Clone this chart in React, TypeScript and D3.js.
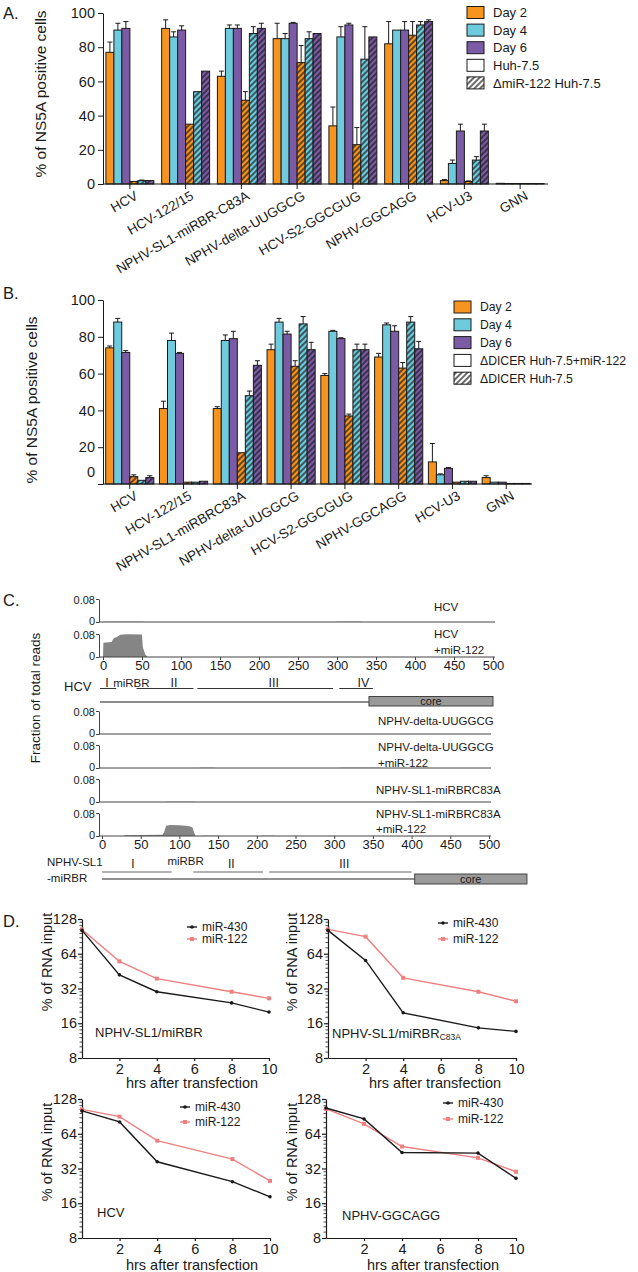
import { useEffect, useRef } from 'react'
import * as d3 from 'd3'

const FONT = "'Liberation Sans', Arial, Helvetica, sans-serif"
const ORANGE = '#F7941D'
const CYAN = '#6DCBDD'
const PURPLE = '#7C5BA6'
const PINK = '#EE8080'
const INK = '#1a1a1a'

// ---------- A / B : % of NS5A positive cells ----------
const constructsA = ['HCV', 'HCV-122/15', 'NPHV-SL1-miRBR-C83A', 'NPHV-delta-UUGGCG', 'HCV-S2-GGCGUG', 'NPHV-GGCAGG', 'HCV-U3', 'GNN']
const constructsB = ['HCV', 'HCV-122/15', 'NPHV-SL1-miRBRC83A', 'NPHV-delta-UUGGCG', 'HCV-S2-GGCGUG', 'NPHV-GGCAGG', 'HCV-U3', 'GNN']
const pctTicks = [0, 20, 40, 60, 80, 100]
const legendA = ['Day 2', 'Day 4', 'Day 6', 'Huh-7.5', '\u0394miR-122 Huh-7.5']
const legendB = ['Day 2', 'Day 4', 'Day 6', '\u0394DICER Huh-7.5+miR-122', '\u0394DICER Huh-7.5']

// Huh-7.5 (solid) / ΔmiR-122 Huh-7.5 (hatched)
const aDay2 = [77, 91, 63, 85, 34, 82, 2, 0.4]
const aDay4 = [90, 86, 91, 85, 86, 90, 12, 0.3]
const aDay6 = [91, 90, 91, 94, 93, 90, 31, 0.3]
const aDay2Ko = [1.5, 35, 49, 71, 23, 87, 1.5, 0.3]
const aDay4Ko = [2, 54, 88, 85, 73, 93, 14, 0.3]
const aDay6Ko = [2, 66, 91, 88, 86, 95, 31, 0.3]
const aDay2Err = [6, 5, 3, 9, 11, 13, 0.6, 0]
const aDay4Err = [4, 3, 2, 3, 6, 0, 2, 0]
const aDay6Err = [4, 2.5, 2, 0.5, 1, 5, 4, 0]
const aDay2KoErr = [0, 0, 5, 10, 10, 8, 0.3, 0]
const aDay4KoErr = [0.3, 0, 4, 4, 19, 2, 2, 0]
const aDay6KoErr = [0, 0, 3, 0, 0, 1, 4, 0]

// ΔDICER Huh-7.5+miR-122 (solid) / ΔDICER Huh-7.5 (hatched)
const bDay2 = [74, 41, 41, 73, 59, 69, 12, 3.5]
const bDay4 = [88, 78, 78, 88, 83, 86.5, 5, 1]
const bDay6 = [71.5, 71, 79, 81.5, 79, 83, 8.5, 1]
const bDay2Ko = [4, 1, 17, 64, 37, 63, 1, 0.3]
const bDay4Ko = [2, 1, 48, 87, 73, 88, 1.5, 0.3]
const bDay6Ko = [3.5, 1.5, 64.5, 73, 73, 73.5, 1.5, 0.3]
const bDay2Err = [1, 4, 1, 3, 1, 2, 10, 1]
const bDay4Err = [2, 4, 3, 2, 0.5, 1, 0.5, 0]
const bDay6Err = [1, 0.5, 4, 1.5, 0.5, 3, 0.5, 0]
const bDay2KoErr = [1, 0, 0, 3, 1, 3, 0, 0]
const bDay4KoErr = [0, 0, 2.5, 4, 3, 3, 0, 0]
const bDay6KoErr = [1, 0, 2.5, 4, 3, 4, 0, 0]

// ---------- C : read coverage (nt, fraction of total reads) ----------
const covHcv = [[0, 0], [2, 0.001], [50, 0.001], [54, 0], [298, 0], [300, 0.001], [330, 0.001], [333, 0]]
const covHcvMir = [[0, 0], [0.5, 0.05], [11, 0.052], [14, 0.066], [18, 0.07], [22, 0.077], [30, 0.079], [50, 0.078], [51, 0.035], [54, 0.01], [57, 0]]
const covDelta = [[0, 0], [500, 0]]
const covDeltaMir = [[0, 0], [125, 0], [127, 0.0012], [145, 0.0012], [147, 0], [306, 0], [308, 0.001], [360, 0.001], [362, 0]]
const covSl1 = [[0, 0], [82, 0], [84, 0.001], [118, 0.001], [120, 0], [405, 0], [407, 0.001], [435, 0.001], [437, 0]]
const covSl1Mir = [[0, 0], [28, 0], [30, 0.003], [78, 0.004], [80, 0.012], [83, 0.036], [88, 0.038], [100, 0.037], [108, 0.036], [113, 0.034], [117, 0.03], [119, 0.012], [121, 0], [128, 0], [130, 0.0012], [150, 0.0012], [152, 0], [205, 0], [207, 0.0012], [222, 0.0012], [224, 0]]
const trackNames = [['HCV'], ['HCV', '+miR-122'], ['NPHV-delta-UUGGCG'], ['NPHV-delta-UUGGCG', '+miR-122'], ['NPHV-SL1-miRBRC83A'], ['NPHV-SL1-miRBRC83A', '+miR-122']]
const coverages = [covHcv, covHcvMir, covDelta, covDeltaMir, covSl1, covSl1Mir]
const ntTicks = [0, 50, 100, 150, 200, 250, 300, 350, 400, 450, 500]

const hcvDomains = ['I', 'II', 'III', 'IV']
const hcvDomainStart = [-4, 43, 121, 303]
const hcvDomainEnd = [17, 116, 295, 346]
const hcvDomainLabelAt = [5, 91, 219, 334]
const hcvMirbrAt = 13
const hcvCore = [341, 500]
const nphvDomains = ['I', 'II', 'III']
const nphvDomainStart = [0, 118, 216]
const nphvDomainEnd = [90, 208, 400]
const nphvDomainLabelAt = [40, 167, 313]
const nphvMirbrAt = 108
const nphvCore = [404, 549]

// ---------- D : RNA decay (% of RNA input) ----------
const hours = [0, 2, 4, 8, 10]
const hourTicks = [2, 4, 6, 8, 10]
const log2Ticks = [8, 16, 32, 64, 128]
const sl1Mir430 = [102, 42, 30, 24, 20]
const sl1Mir122 = [104, 55, 39, 30, 26.3]
const c83aMir430 = [102, 56, 19.7, 14.6, 13.6]
const c83aMir122 = [104, 90, 39.6, 30, 24.8]
const hcvMir430 = [101, 81, 36.6, 24.6, 18.2]
const hcvMir122 = [104, 90, 55.7, 38.6, 25]
const ggcaggMir430 = [107, 86, 44, 43.5, 26.3]
const ggcaggMir122 = [105, 78, 49.6, 39.6, 30]
const decayNames = ['NPHV-SL1/miRBR', 'NPHV-SL1/miRBR', 'HCV', 'NPHV-GGCAGG']
const decaySubs = ['', 'C83A', '', '']
const decay430 = [sl1Mir430, c83aMir430, hcvMir430, ggcaggMir430]
const decay122 = [sl1Mir122, c83aMir122, hcvMir122, ggcaggMir122]

function drawBarPanel(svg: any, p: any) {
  const g = svg.append('g')
  const x = d3.scaleBand().domain(p.groups).range(p.xRange).paddingInner(p.padIn).paddingOuter(p.padOut)
  const sub = d3.scaleBand().domain(d3.range(6) as any).range([0, x.bandwidth()])
  const y = d3.scaleLinear().domain([0, 100]).range([p.y0, p.y100])
  const fills = [ORANGE, CYAN, PURPLE, 'url(#hO)', 'url(#hC)', 'url(#hP)']

  p.values.forEach((vals: number[], si: number) => {
    const rows = p.groups.map((grp: string, i: number) => ({ grp, v: vals[i], e: p.errs[si][i] }))
    g.append('g')
      .selectAll('rect')
      .data(rows)
      .join('rect')
      .attr('x', (d: any) => (x(d.grp) as number) + (sub(si as any) as number))
      .attr('y', (d: any) => y(d.v))
      .attr('width', sub.bandwidth())
      .attr('height', (d: any) => y(0) - y(d.v))
      .attr('fill', fills[si])
      .attr('stroke', INK)
      .attr('stroke-width', 1)
    const eb = g.append('g').attr('stroke', INK).attr('stroke-width', 1)
    rows.filter((d: any) => d.e > 0).forEach((d: any) => {
      const cx = (x(d.grp) as number) + (sub(si as any) as number) + sub.bandwidth() / 2
      eb.append('line').attr('x1', cx).attr('x2', cx).attr('y1', y(d.v)).attr('y2', y(d.v + d.e))
      eb.append('line').attr('x1', cx - 2.5).attr('x2', cx + 2.5).attr('y1', y(d.v + d.e)).attr('y2', y(d.v + d.e))
    })
  })

  const ya = g.append('g')
    .attr('transform', `translate(${p.axisX},0)`)
    .call(d3.axisLeft(y).tickValues(pctTicks).tickSize(5).tickSizeOuter(0).tickPadding(3))
  ya.attr('font-family', FONT).attr('font-size', 14.5)
  ya.selectAll('line, path').attr('stroke', INK)
  ya.selectAll('text').attr('fill', INK)
  if (p.zeroLift) ya.selectAll('.tick text').filter((d: any) => d === 0).attr('dy', `${0.32 - p.zeroLift / 14.5}em`)

  const xa = g.append('g').attr('transform', `translate(0,${y(0)})`)
  xa.append('line').attr('x1', p.axisX).attr('x2', p.xAxisEnd).attr('stroke', INK)
  p.groups.forEach((grp: string) => {
    const cx = (x(grp) as number) + x.bandwidth() / 2
    xa.append('line').attr('x1', cx).attr('x2', cx).attr('y1', 0).attr('y2', 5).attr('stroke', INK)
    xa.append('text')
      .attr('transform', `translate(${cx + 4},6) rotate(-30)`)
      .attr('text-anchor', 'end')
      .attr('dy', '0.72em')
      .attr('font-size', 13.5)
      .attr('fill', INK)
      .text(grp)
  })

  g.append('text')
    .attr('transform', `translate(${p.titleX},${p.titleY}) rotate(-90)`)
    .attr('text-anchor', 'middle')
    .attr('font-size', 15.5)
    .attr('fill', INK)
    .text('% of NS5A positive cells')

  const legFills = [ORANGE, CYAN, PURPLE, '#fff', 'url(#hW)']
  p.legend.forEach((lab: string, i: number) => {
    const cy = p.legY + i * p.legDy
    g.append('rect').attr('x', p.legX).attr('y', cy - 6).attr('width', 17).attr('height', 12)
      .attr('fill', legFills[i]).attr('stroke', INK).attr('stroke-width', 1)
    g.append('text').attr('x', p.legX + 26).attr('y', cy).attr('dy', '0.36em').attr('font-size', p.legFont).attr('fill', INK).text(lab)
  })
}

function drawCoverage(svg: any) {
  const g = svg.append('g')
  const xTop = d3.scaleLinear().domain([0, 500]).range([103, 493])
  const xBot = d3.scaleLinear().domain([0, 500]).range([102, 489])
  const layout = [
    { base: 622, labelX: 434, labelY: [607], axis: false },
    { base: 657, labelX: 434, labelY: [634, 650], axis: true },
    { base: 734, labelX: 378, labelY: [721], axis: false },
    { base: 768, labelX: 378, labelY: [747, 763], axis: false },
    { base: 802, labelX: 376, labelY: [790], axis: false },
    { base: 836, labelX: 376, labelY: [814, 829], axis: true },
  ]
  layout.forEach((t, i) => {
    const xs = i < 2 ? xTop : xBot
    const y = d3.scaleLinear().domain([0, 0.08]).range([t.base, t.base - 23])
    const area = d3.area<number[]>().x((d) => xs(d[0])).y0(y(0)).y1((d) => y(d[1]))
    g.append('path').datum(coverages[i]).attr('d', area).attr('fill', '#858585')

    const ya = g.append('g').attr('transform', 'translate(99,0)')
      .call(d3.axisLeft(y).tickValues([0, 0.08]).tickFormat((d: any) => (d === 0 ? '0' : '0.08')).tickSize(3).tickPadding(1).tickSizeOuter(0))
    ya.attr('font-family', FONT).attr('font-size', 11)
    ya.selectAll('line, path').attr('stroke', '#444')
    ya.selectAll('text').attr('fill', INK)
    ya.selectAll('.tick text').filter((d: any) => d === 0).attr('dy', '0.2em')
    ya.selectAll('.tick text').filter((d: any) => d !== 0).attr('dy', '0.42em')

    g.append('line').attr('x1', 99).attr('x2', xs(500) + 2).attr('y1', t.base).attr('y2', t.base).attr('stroke', '#444')
    if (t.axis) {
      const xa = g.append('g').attr('transform', `translate(0,${t.base})`)
        .call(d3.axisBottom(xs).tickValues(ntTicks).tickSize(3).tickPadding(1).tickSizeOuter(0))
      xa.attr('font-family', FONT).attr('font-size', 13)
      xa.select('.domain').remove()
      xa.selectAll('line').attr('stroke', '#444')
      xa.selectAll('text').attr('fill', INK)
    }
    trackNames[i].forEach((nm, j) => {
      g.append('text').attr('x', t.labelX).attr('y', t.labelY[j]).attr('dy', '0.36em')
        .attr('font-size', 11.5).attr('fill', INK).text(nm)
    })
  })

  // HCV 5'UTR annotation
  g.append('text').attr('x', 64).attr('y', 691).attr('font-size', 13).attr('fill', INK).text('HCV')
  hcvDomains.forEach((d, i) => {
    g.append('line').attr('x1', xTop(hcvDomainStart[i])).attr('x2', xTop(hcvDomainEnd[i])).attr('y1', 688.5).attr('y2', 688.5).attr('stroke', '#333')
    g.append('text').attr('x', xTop(hcvDomainLabelAt[i])).attr('y', 687).attr('text-anchor', 'middle').attr('font-size', 12.5).attr('fill', INK).text(d)
  })
  g.append('text').attr('x', xTop(hcvMirbrAt)).attr('y', 687).attr('font-size', 11.5).attr('fill', INK).text('miRBR')
  g.append('line').attr('x1', xTop(-4)).attr('x2', xTop(hcvCore[0])).attr('y1', 702).attr('y2', 702).attr('stroke', '#666').attr('stroke-width', 1.3)
  g.append('rect').attr('x', xTop(hcvCore[0])).attr('y', 696.5).attr('width', xTop(hcvCore[1]) - xTop(hcvCore[0])).attr('height', 9.5)
    .attr('fill', '#9a9a9a').attr('stroke', '#444')
  g.append('text').attr('x', (xTop(hcvCore[0]) + xTop(hcvCore[1])) / 2).attr('y', 705).attr('text-anchor', 'middle').attr('font-size', 11).attr('fill', INK).text('core')

  // NPHV-SL1-miRBR annotation
  g.append('text').attr('x', 47).attr('y', 866).attr('font-size', 11.5).attr('fill', INK).text('NPHV-SL1')
  g.append('text').attr('x', 47).attr('y', 882).attr('font-size', 11.5).attr('fill', INK).text('-miRBR')
  nphvDomains.forEach((d, i) => {
    g.append('line').attr('x1', xBot(nphvDomainStart[i])).attr('x2', xBot(nphvDomainEnd[i])).attr('y1', 872).attr('y2', 872).attr('stroke', '#666').attr('stroke-width', 1.2)
    g.append('text').attr('x', xBot(nphvDomainLabelAt[i])).attr('y', 868).attr('text-anchor', 'middle').attr('font-size', 12).attr('fill', INK).text(d)
  })
  g.append('text').attr('x', xBot(nphvMirbrAt)).attr('y', 865).attr('text-anchor', 'middle').attr('font-size', 11.5).attr('fill', INK).text('miRBR')
  g.append('line').attr('x1', xBot(0)).attr('x2', xBot(nphvCore[0])).attr('y1', 879).attr('y2', 879).attr('stroke', '#222')
  g.append('rect').attr('x', xBot(nphvCore[0])).attr('y', 874).attr('width', xBot(nphvCore[1]) - xBot(nphvCore[0])).attr('height', 10)
    .attr('fill', '#9a9a9a').attr('stroke', '#444')
  g.append('text').attr('x', (xBot(nphvCore[0]) + xBot(nphvCore[1])) / 2).attr('y', 883).attr('text-anchor', 'middle').attr('font-size', 11).attr('fill', INK).text('core')

  g.append('text').attr('transform', 'translate(40,698) rotate(-90)').attr('text-anchor', 'middle')
    .attr('font-size', 13.5).attr('fill', INK).text('Fraction of total reads')
}

function drawDecay(svg: any) {
  const layout = [
    { x0: 82, x1: 269, yTop: 919, yBot: 1058, legX: 187, legY: 927, legDy: 12, labX: 95, labY: 1032, ytX: 52, ytY: 962, xtX: 192, xtY: 1083 },
    { x0: 328, x1: 516, yTop: 919, yBot: 1058, legX: 438, legY: 923, legDy: 16, labX: 332, labY: 1033, ytX: 297, ytY: 962, xtX: 435, xtY: 1083 },
    { x0: 82, x1: 270, yTop: 1099, yBot: 1238, legX: 180, legY: 1107, legDy: 15, labX: 97, labY: 1212, ytX: 52, ytY: 1152, xtX: 192, xtY: 1265 },
    { x0: 326, x1: 516, yTop: 1099, yBot: 1238, legX: 443, legY: 1103, legDy: 16, labX: 342, labY: 1215, ytX: 297, ytY: 1152, xtX: 433, xtY: 1265 },
  ]
  layout.forEach((L, ci) => {
    const g = svg.append('g')
    const x = d3.scaleLinear().domain([0, 10]).range([L.x0, L.x1])
    const y = d3.scaleLog().base(2).domain([8, 128]).range([L.yBot, L.yTop])

    const ya = g.append('g').attr('transform', `translate(${L.x0},0)`)
      .call(d3.axisLeft(y).tickValues(log2Ticks).tickFormat(d3.format('d')).tickSize(4).tickPadding(1).tickSizeOuter(0))
    ya.attr('font-family', FONT).attr('font-size', 14.5)
    ya.selectAll('line, path').attr('stroke', INK).attr('stroke-width', 1.2)
    ya.selectAll('text').attr('fill', INK)
    log2Ticks.slice(0, -1).forEach((p) => {
      d3.range(1, 8).forEach((k) => {
        const v = p + (k * p) / 8
        g.append('line').attr('x1', L.x0 - 2.5).attr('x2', L.x0).attr('y1', y(v)).attr('y2', y(v)).attr('stroke', INK).attr('stroke-width', 0.8)
      })
    })

    const xa = g.append('g').attr('transform', `translate(0,${L.yBot})`)
      .call(d3.axisBottom(x).tickValues(hourTicks).tickSize(3).tickPadding(3).tickSizeOuter(0))
    xa.attr('font-family', FONT).attr('font-size', 14.5)
    xa.selectAll('line, path').attr('stroke', INK).attr('stroke-width', 1.2)
    xa.selectAll('text').attr('fill', INK)

    g.append('text').attr('x', L.xtX).attr('y', L.xtY).attr('dy', '0.36em').attr('text-anchor', 'middle')
      .attr('font-size', 14.5).attr('fill', INK).text('hrs after transfection')
    g.append('text').attr('transform', `translate(${L.ytX},${L.ytY}) rotate(-90)`).attr('text-anchor', 'middle')
      .attr('font-size', 14.5).attr('fill', INK).text('% of RNA input')

    const line = d3.line<number>().x((d, i) => x(hours[i])).y((d) => y(d))
    const series = [
      { vals: decay122[ci], color: PINK, sq: true },
      { vals: decay430[ci], color: INK, sq: false },
    ]
    series.forEach((s) => {
      g.append('path').datum(s.vals).attr('d', line).attr('fill', 'none').attr('stroke', s.color).attr('stroke-width', 1.4)
      s.vals.forEach((v: number, i: number) => {
        if (s.sq) g.append('rect').attr('x', x(hours[i]) - 2).attr('y', y(v) - 2).attr('width', 4).attr('height', 4).attr('fill', s.color)
        else g.append('circle').attr('cx', x(hours[i])).attr('cy', y(v)).attr('r', 1.8).attr('fill', s.color)
      })
    })
    ;[
      { color: INK, name: 'miR-430', sq: false },
      { color: PINK, name: 'miR-122', sq: true },
    ].forEach((s, i) => {
      const cy = L.legY + i * L.legDy
      g.append('line').attr('x1', L.legX).attr('x2', L.legX + 10).attr('y1', cy).attr('y2', cy).attr('stroke', s.color).attr('stroke-width', 1.4)
      if (s.sq) g.append('rect').attr('x', L.legX + 3).attr('y', cy - 2).attr('width', 4).attr('height', 4).attr('fill', s.color)
      else g.append('circle').attr('cx', L.legX + 5).attr('cy', cy).attr('r', 1.8).attr('fill', s.color)
      g.append('text').attr('x', L.legX + 15).attr('y', cy).attr('dy', '0.36em').attr('font-size', 12).attr('fill', INK).text(s.name)
    })

    const lab = g.append('text').attr('x', L.labX).attr('y', L.labY).attr('dy', '0.36em').attr('font-size', 13).attr('fill', INK).text(decayNames[ci])
    if (decaySubs[ci]) lab.append('tspan').attr('font-size', 8.5).attr('dy', 2).text(decaySubs[ci])
  })
}

export default function App() {
  const ref = useRef<SVGSVGElement>(null)

  useEffect(() => {
    const svg = d3.select(ref.current)
    svg.selectAll('*').remove()
    svg.attr('font-family', FONT)

    const defs = svg.append('defs')
    const hatch = (id: string, bg: string) => {
      const p = defs.append('pattern').attr('id', id).attr('patternUnits', 'userSpaceOnUse')
        .attr('width', 4).attr('height', 4).attr('patternTransform', 'rotate(45)')
      p.append('rect').attr('width', 4).attr('height', 4).attr('fill', bg)
      p.append('line').attr('x1', 2).attr('y1', 0).attr('x2', 2).attr('y2', 4).attr('stroke', INK).attr('stroke-width', 1.3)
    }
    hatch('hO', ORANGE)
    hatch('hC', CYAN)
    hatch('hP', PURPLE)
    hatch('hW', '#fff')

    const letters = [['A.', 13], ['B.', 293], ['C.', 600], ['D.', 921]]
    letters.forEach(([t, yy]) => {
      svg.append('text').attr('x', 3).attr('y', yy as number).attr('dy', '0.36em').attr('font-size', 16.5).attr('fill', INK).text(t as string)
    })

    drawBarPanel(svg, {
      groups: constructsA,
      values: [aDay2, aDay4, aDay6, aDay2Ko, aDay4Ko, aDay6Ko],
      errs: [aDay2Err, aDay4Err, aDay6Err, aDay2KoErr, aDay4KoErr, aDay6KoErr],
      xRange: [102, 548], xAxisEnd: 548, axisX: 103, y0: 184, y100: 13, padIn: 0.14, padOut: 0.07,
      titleX: 46, titleY: 94, legend: legendA, legX: 467, legY: 12.5, legDy: 17.6, legFont: 13, zeroLift: 0,
    })
    drawBarPanel(svg, {
      groups: constructsB,
      values: [bDay2, bDay4, bDay6, bDay2Ko, bDay4Ko, bDay6Ko],
      errs: [bDay2Err, bDay4Err, bDay6Err, bDay2KoErr, bDay4KoErr, bDay6KoErr],
      xRange: [103, 533], xAxisEnd: 532, axisX: 103, y0: 484, y100: 300, padIn: 0.105, padOut: 0.05,
      titleX: 37, titleY: 400, legend: legendB, legX: 454, legY: 307, legDy: 17.8, legFont: 12.2, zeroLift: 12,
    })
    drawCoverage(svg)
    drawDecay(svg)
  }, [])

  return (
    <div style={{ position: 'absolute', left: 0, top: 0 }}>
      <svg ref={ref} width={638} height={1272} style={{ display: 'block', background: '#fff' }} />
    </div>
  )
}
